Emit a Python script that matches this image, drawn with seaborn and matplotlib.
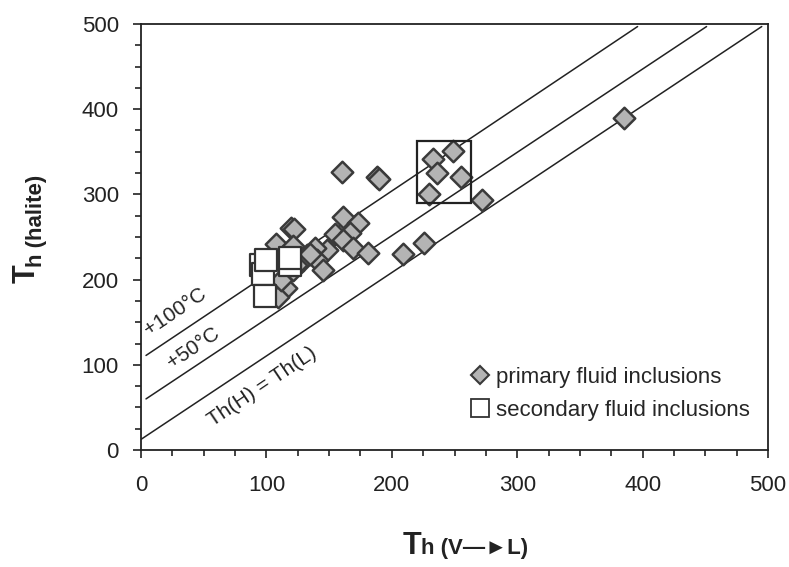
import numpy as np
import pandas as pd
import matplotlib
matplotlib.use("Agg")
import matplotlib.pyplot as plt
import seaborn as sns
from matplotlib.lines import Line2D
from matplotlib.ticker import MultipleLocator

# primary fluid inclusions (Th V->L, Th halite)
prim_x = [385, 160, 188, 190, 249, 233, 236, 255, 230, 272, 226, 209,
          120, 122, 161, 173, 155, 167, 161, 169, 181, 148, 139, 140,
          145, 132, 108, 121, 129, 121, 116, 109, 124, 112, 135]
prim_y = [390, 326, 320, 318, 351, 341, 325, 321, 301, 294, 243, 230,
          261, 259, 273, 266, 254, 255, 246, 237, 231, 235, 237, 223,
          211, 229, 242, 240, 223, 211, 190, 180, 217, 200, 230]

# secondary fluid inclusions
sec_x = [96, 97, 100, 119, 119, 99]
sec_y = [217, 207, 223, 217, 225, 181]

# reference lines (start, end)
line_names = ["+100°C", "+50°C", "Th(H) = Th(L)"]
line_x = [[4, 396], [4, 451], [0, 495]]
line_y = [[111, 497], [60, 497], [12.5, 497]]

# box around the high-temperature group
box_x = [220, 263]
box_y = [290, 363]

sns.set_theme(style="white")
plt.rcParams['font.family'] = ['Liberation Sans', 'DejaVu Sans']

df_p = pd.DataFrame({"thl": prim_x, "thh": prim_y})
df_s = pd.DataFrame({"thl": sec_x, "thh": sec_y})

fig = plt.figure(figsize=(7.89, 5.67), dpi=100)
ax = fig.add_axes([0.1787, 0.2063, 0.7947, 0.7514])

for lx, ly in zip(line_x, line_y):
    ax.plot(lx, ly, color="#222222", lw=1.1, zorder=1)

ax.add_patch(plt.Rectangle((box_x[0], box_y[0]), box_x[1] - box_x[0], box_y[1] - box_y[0],
                           fill=False, ec="#222222", lw=1.6, zorder=4))

sns.scatterplot(data=df_p, x="thl", y="thh", marker="D", s=120, color="#b4b4b4",
                edgecolor="#3a3a3a", linewidth=1.8, ax=ax, zorder=3, legend=False)
sns.scatterplot(data=df_s, x="thl", y="thh", marker="s", s=230, color="white",
                edgecolor="#333333", linewidth=1.6, ax=ax, zorder=5, legend=False)

ax.set_xlim(0, 500)
ax.set_ylim(0, 500)
ax.xaxis.set_major_locator(MultipleLocator(100))
ax.yaxis.set_major_locator(MultipleLocator(100))
ax.xaxis.set_minor_locator(MultipleLocator(25))
ax.yaxis.set_minor_locator(MultipleLocator(25))
ax.tick_params(which="major", direction="out", length=6, width=1.2, colors="#222222",
               labelsize=16, labelcolor="#222222", left=True, bottom=True)
ax.tick_params(axis="x", which="major", pad=12)
ax.tick_params(axis="y", which="major", pad=10)
ax.tick_params(which="minor", direction="out", length=4, width=1.2, colors="#222222",
               left=True, bottom=True)
for sp in ax.spines.values():
    sp.set_color("#222222")
    sp.set_linewidth(1.3)
ax.set_xlabel("")
ax.set_ylabel("")

# line labels
ax.text(27, 162, line_names[0], rotation=34, fontsize=15, ha="center", va="center", color="#222222")
ax.text(42, 120, line_names[1], rotation=34, fontsize=15, ha="center", va="center", color="#222222")
ax.text(97, 74, line_names[2], rotation=34, fontsize=15, ha="center", va="center", color="#222222")

# axis titles
ax.text(0.417, -0.243, "T", transform=ax.transAxes, fontsize=22, fontweight="bold",
        ha="left", va="baseline", color="#222222")
ax.text(0.447, -0.245, "h (V—►L)", transform=ax.transAxes, fontsize=16, fontweight="bold",
        ha="left", va="baseline", color="#222222")
ax.text(-0.158, 0.392, "T", transform=ax.transAxes, fontsize=22, fontweight="bold",
        rotation=90, ha="right", va="bottom", color="#222222")
ax.text(-0.150, 0.430, "h (halite)", transform=ax.transAxes, fontsize=16, fontweight="bold",
        rotation=90, ha="right", va="bottom", color="#222222")

handles = [Line2D([], [], marker="D", ls="", ms=9, mfc="#b4b4b4", mec="#3a3a3a", mew=1.5),
           Line2D([], [], marker="s", ls="", ms=13, mfc="white", mec="#333333", mew=1.3)]
ax.legend(handles, ["primary fluid inclusions", "secondary fluid inclusions"],
          loc="upper left", bbox_to_anchor=(0.523, 0.195), frameon=False, fontsize=16,
          borderpad=0, borderaxespad=0, handletextpad=0.2, handlelength=1.0,
          labelspacing=0.53)

plt.savefig("out.png", dpi=100)
